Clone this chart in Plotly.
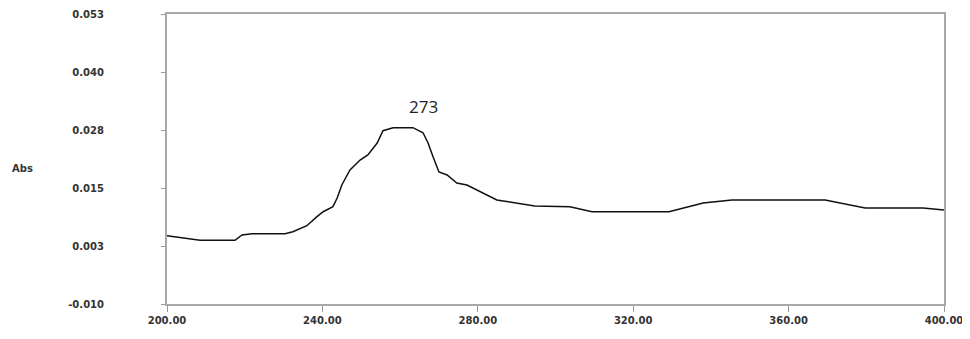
import plotly.graph_objects as go

wavelength = [200, 204.6, 208.5, 217.5, 219.3, 221.9, 230.4, 232.4, 236.0, 238.6, 240.2,
              242.7, 243.8, 245.0, 247.1, 249.7, 251.7, 254.1, 255.6, 258.2, 263.3, 265.9,
              267.2, 268.5, 270.0, 272.1, 274.6, 277.2, 280.6, 284.9, 294.7, 303.7, 309.4,
              329.2, 338.0, 345.4, 369.4, 379.7, 394.6, 400]
absorbance = [0.00484, 0.00434, 0.00384, 0.00384, 0.00499, 0.00527, 0.00527, 0.00571, 0.00701,
              0.00897, 0.01005, 0.01114, 0.01303, 0.01585, 0.01911, 0.02128, 0.02237, 0.02498,
              0.02765, 0.02830, 0.02830, 0.02721, 0.02498, 0.02193, 0.01868, 0.01802, 0.01628,
              0.01585, 0.01433, 0.01259, 0.01129, 0.01114, 0.01005, 0.01005, 0.01194, 0.01259,
              0.01259, 0.01085, 0.01085, 0.01042]

x_ticks = [200, 240, 280, 320, 360, 400]
x_ticktext = ["200.00", "240.00", "280.00", "320.00", "360.00", "400.00"]
y_ticks = [-0.010, 0.0026, 0.0152, 0.0278, 0.0404, 0.053]
y_ticktext = ["-0.010", "0.003", "0.015", "0.028", "0.040", "0.053"]
peak_label = "273"
peak_pos = (266.0, 0.0330)

fig = go.Figure()
fig.add_trace(go.Scatter(x=wavelength, y=absorbance, mode="lines",
                         line=dict(color="#111111", width=1.5), showlegend=False))

tickfont = dict(family="DejaVu Sans", size=10, color="#333333", weight="bold")
axis_common = dict(showgrid=False, zeroline=False, showline=True, linecolor="#a8a8a8",
                   linewidth=2, mirror=True, ticks="outside", tickcolor="#999999",
                   tickwidth=1, tickfont=tickfont, automargin=False)

fig.update_xaxes(range=[200, 400], tickvals=x_ticks, ticktext=x_ticktext, ticklen=6,
                 **axis_common)
fig.update_yaxes(range=[-0.010, 0.053], tickvals=y_ticks, ticktext=y_ticktext, ticklen=4,
                 ticklabelstandoff=55, **axis_common)

fig.add_annotation(x=peak_pos[0], y=peak_pos[1], text=peak_label, showarrow=False,
                   font=dict(family="Open Sans", size=17, color="#222222"))
fig.add_annotation(xref="paper", yref="paper", x=(22 - 167) / 777, y=(304 - 168) / 290,
                   text="Abs", showarrow=False, xanchor="center", yanchor="middle",
                   font=dict(family="DejaVu Sans", size=10, color="#333333", weight="bold"))

fig.update_layout(width=960, height=323, margin=dict(l=159, r=24, t=6, b=27),
                  plot_bgcolor="white", paper_bgcolor="white")

fig.write_html("out.html")
